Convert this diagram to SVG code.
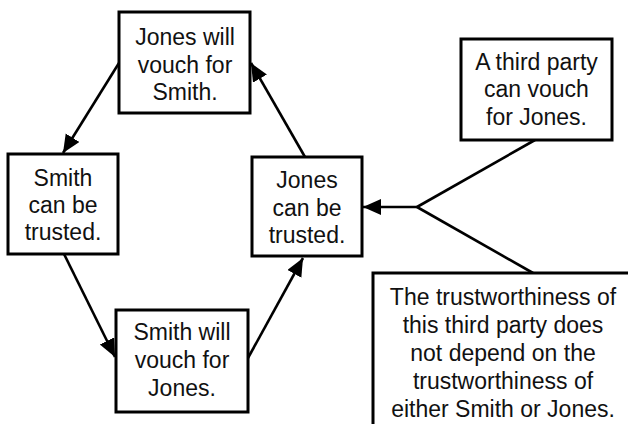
<svg xmlns="http://www.w3.org/2000/svg" width="628" height="424" viewBox="0 0 628 424">
<style>
.box{fill:#fff;stroke:#000;stroke-width:3}
.t{font-family:"Liberation Sans",Arial,sans-serif;font-size:23px;fill:#111;text-anchor:middle}
.c{stroke:#000;stroke-width:2.6;fill:none}
</style>
<defs>
<marker id="ah" markerUnits="userSpaceOnUse" markerWidth="20" markerHeight="18" refX="18" refY="8" orient="auto">
<path d="M0,0 L18,8 L0,16 z" fill="#000"/>
</marker>
</defs>
<rect width="628" height="424" fill="#fff"/>
<g id="connectors">
<line class="c" x1="119" y1="63" x2="63" y2="153" marker-end="url(#ah)"/>
<line class="c" x1="64" y1="254" x2="115" y2="357" marker-end="url(#ah)"/>
<line class="c" x1="248" y1="358" x2="303" y2="258" marker-end="url(#ah)"/>
<line class="c" x1="305" y1="157" x2="251" y2="63" marker-end="url(#ah)"/>
<line class="c" x1="417" y1="207" x2="363" y2="207" marker-end="url(#ah)"/>
<line class="c" x1="417" y1="207" x2="535" y2="140"/>
<line class="c" x1="417" y1="207" x2="533" y2="273"/>
</g>
<g id="n1">
<rect class="box" x="119" y="12" width="131" height="101"/>
<text class="t" x="185" y="45">Jones will</text>
<text class="t" x="185" y="73">vouch for</text>
<text class="t" x="185" y="100">Smith.</text>
</g>
<g id="n2">
<rect class="box" x="8" y="154" width="110" height="100"/>
<text class="t" x="63" y="186">Smith</text>
<text class="t" x="63" y="213">can be</text>
<text class="t" x="63" y="240">trusted.</text>
</g>
<g id="n3">
<rect class="box" x="252" y="157" width="110" height="99"/>
<text class="t" x="307" y="188">Jones</text>
<text class="t" x="307" y="216">can be</text>
<text class="t" x="307" y="243">trusted.</text>
</g>
<g id="n4">
<rect class="box" x="461" y="39" width="151" height="101"/>
<text class="t" x="536.5" y="70">A third party</text>
<text class="t" x="536.5" y="97">can vouch</text>
<text class="t" x="536.5" y="125">for Jones.</text>
</g>
<g id="n5">
<rect class="box" x="373" y="273" width="262" height="170"/>
<text class="t" x="503" y="305">The trustworthiness of</text>
<text class="t" x="503" y="333">this third party does</text>
<text class="t" x="503" y="361">not depend on the</text>
<text class="t" x="503" y="389">trustworthiness of</text>
<text class="t" x="503" y="417">either Smith or Jones.</text>
</g>
<g id="n6">
<rect class="box" x="116" y="310" width="132" height="102"/>
<text class="t" x="182" y="340">Smith will</text>
<text class="t" x="182" y="368">vouch for</text>
<text class="t" x="182" y="396">Jones.</text>
</g>
</svg>
